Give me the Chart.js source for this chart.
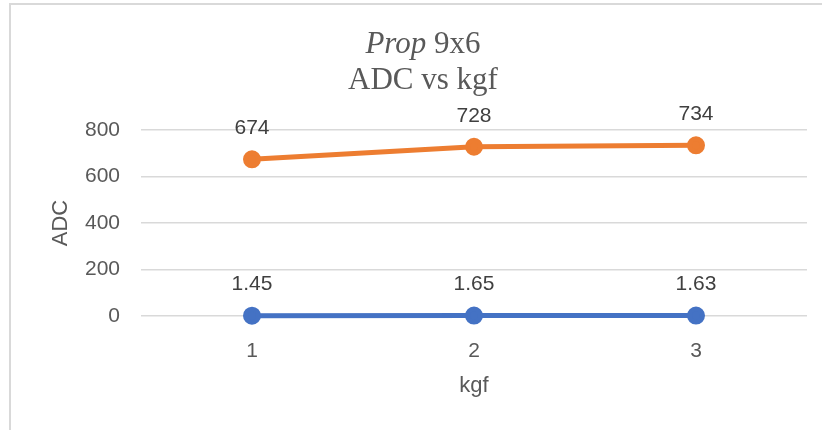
<!DOCTYPE html>
<html lang="en">
<head>
<meta charset="utf-8"/>
<title>Prop 9x6 - ADC vs kgf</title>
<script src="https://cdn.jsdelivr.net/npm/chart.js"></script>
<style>
  body { margin: 0; background: #fff; }
  .frame {
    position: absolute; left: 9px; top: 3px; width: 830px; height: 440px;
    border-left: 2px solid #d9d9d9; border-top: 2px solid #d9d9d9;
  }
  .wrap { position: relative; width: 822px; height: 430px; }
  .titel {
    position: absolute; left: 223px; width: 400px; top: 25px;
    text-align: center; font-family: "Liberation Serif", "Times New Roman", serif;
    font-size: 31px; line-height: 36px; color: #595959;
  }
</style>
</head>
<body>
<div class="wrap">
  <div class="frame"></div>
  <div class="titel"><i>Prop</i> 9x6<br/>ADC vs kgf</div>
  <canvas id="grafik" width="822" height="430"></canvas>
</div>
<script>
  const kategori = ['1', '2', '3'];
  const oranjeWaarden = [674, 728, 734];
  const blauwWaarden = [1.45, 1.65, 1.63];
  const yTicks = [0, 200, 400, 600, 800];

  const tekstKleur = '#595959';
  const lettertype = '"Liberation Sans", Arial, sans-serif';

  // labels boven de punten
  const labelPlugin = {
    id: 'puntLabels',
    afterDatasetsDraw(chart) {
      const ctx = chart.ctx;
      ctx.save();
      ctx.font = '21px ' + lettertype;
      ctx.fillStyle = '#404040';
      ctx.textAlign = 'center';
      ctx.textBaseline = 'middle';
      chart.data.datasets.forEach((ds, i) => {
        chart.getDatasetMeta(i).data.forEach((pt, j) => {
          ctx.fillText(String(ds.data[j]), pt.x, pt.y - 31);
        });
      });
      ctx.restore();
    }
  };

  new Chart(document.getElementById('grafik'), {
    type: 'line',
    data: {
      labels: kategori,
      datasets: [
        {
          label: 'blauw',
          data: blauwWaarden,
          borderColor: '#4472C4',
          backgroundColor: '#4472C4',
          borderWidth: 5,
          pointRadius: 6.5,
          pointHoverRadius: 6.5,
          clip: false
        },
        {
          label: 'oranje',
          data: oranjeWaarden,
          borderColor: '#ED7D31',
          backgroundColor: '#ED7D31',
          borderWidth: 5,
          pointRadius: 6.5,
          pointHoverRadius: 6.5,
          clip: false
        }
      ]
    },
    options: {
      responsive: false,
      animation: false,
      layout: { padding: { top: 130, right: 15, left: 0, bottom: 0 } },
      plugins: {
        legend: { display: false },
        title: { display: false },
        tooltip: { enabled: false }
      },
      scales: {
        x: {
          offset: true,
          grid: { display: false, drawTicks: false },
          border: { display: false },
          ticks: { color: tekstKleur, font: { family: lettertype, size: 21 }, padding: 23 },
          title: {
            display: true, text: 'kgf', color: tekstKleur,
            font: { family: lettertype, size: 22 }, padding: { top: 0, bottom: 31 }
          },
          afterFit(scale) { scale.height = 114; }
        },
        y: {
          min: 0,
          max: 800,
          afterBuildTicks(scale) { scale.ticks = yTicks.map(v => ({ value: v })); },
          grid: { color: '#d9d9d9', lineWidth: 1.5, drawTicks: false },
          border: { display: false },
          ticks: { color: tekstKleur, font: { family: lettertype, size: 21 }, padding: 21 },
          title: {
            display: true, text: 'ADC', color: tekstKleur,
            font: { family: lettertype, size: 22 }, padding: { top: 48, bottom: 0 }
          },
          afterFit(scale) { scale.width = 141; }
        }
      }
    },
    plugins: [labelPlugin]
  });
</script>
</body>
</html>
